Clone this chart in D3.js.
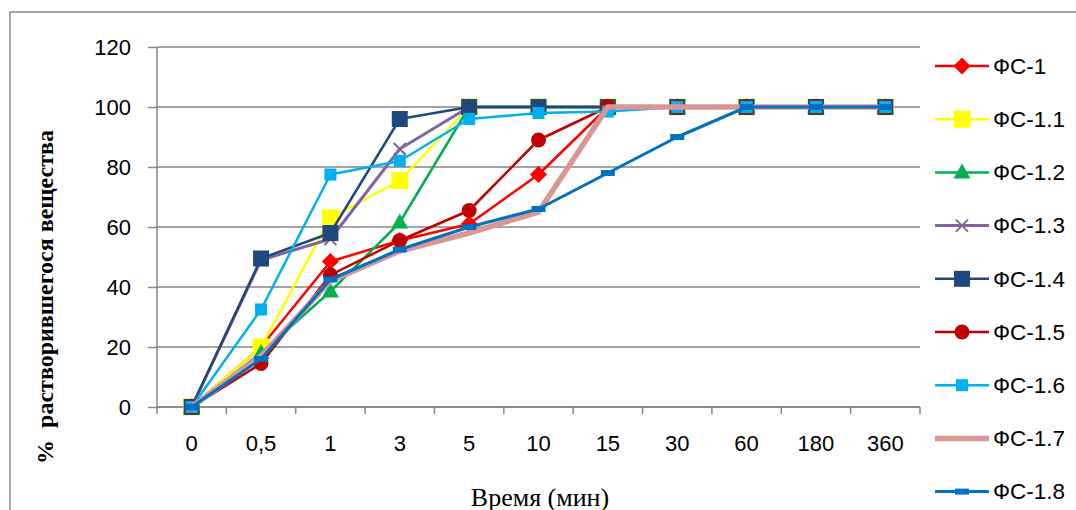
<!DOCTYPE html>
<html><head><meta charset="utf-8">
<script src="https://cdn.jsdelivr.net/npm/d3@7"></script>
<style>body{margin:0;background:#fff;overflow:hidden}</style></head>
<body><svg id="c" width="1076" height="510"></svg>
<script>
const categories = ["0","0,5","1","3","5","10","15","30","60","180","360"];
const yTicks = [0,20,40,60,80,100,120];
const seriesNames = ["ФС-1","ФС-1.1","ФС-1.2","ФС-1.3","ФС-1.4","ФС-1.5","ФС-1.6","ФС-1.7","ФС-1.8"];
const fs1  = [0,20,48.5,55.5,61,77.5,100,100,100,100,100];
const fs11 = [0,20,63,75.5,100,100,100,100,100,100,100];
const fs12 = [0,18,38.5,61.5,100,100,100,100,100,100,100];
const fs13 = [0,49,56,86,100,100,100,100,100,100,100];
const fs14 = [0,49.5,58,96,100,100,100,100,100,100,100];
const fs15 = [0,14.5,44,55.5,65.5,89,100,100,100,100,100];
const fs16 = [0,32.5,77.5,82,96,98,98.5,100,100,100,100];
const fs17 = [0,17,42,52,58,65,100,100,100,100,100];
const fs18 = [0,16,42.5,52.5,60,66,78,90,100,100,100];
const seriesValues = [fs1,fs11,fs12,fs13,fs14,fs15,fs16,fs17,fs18];
const colors = ["#FF0000","#FFFF00","#00B050","#8064A2","#1F497D","#C00000","#00B0F0","#D99694","#0070C0"];
const markers = ["diamond","bigsquare","triangle","x","navysquare","circle","smallsquare","none","dash"];
const widths = [2.5,2.5,2.5,3,2.5,2.5,2.5,5.5,3];

(function(){
const svg = d3.select("#c");
const pl = 157, pr = 920, pt = 47, pb = 407;
const x = d3.scaleBand().domain(categories).range([pl, pr]);
const y = d3.scaleLinear().domain([0,120]).range([pb, pt]);
const grey = "#868686";

svg.append("rect").attr("x",10).attr("y",12).attr("width",1200).attr("height",600)
  .attr("fill","none").attr("stroke","#8c8c8c").attr("stroke-width",1.5);

svg.append("g").selectAll("line").data(yTicks).join("line")
  .attr("x1",pl).attr("x2",pr).attr("y1",d=>y(d)).attr("y2",d=>y(d))
  .attr("stroke",grey).attr("stroke-width",1.5);

const yAxis = d3.axisLeft(y).tickValues(yTicks).tickSize(9).tickPadding(17);
const ya = svg.append("g").attr("transform",`translate(${pl},0)`).call(yAxis);
ya.select(".domain").attr("stroke",grey).attr("stroke-width",1.5).attr("d",`M0,${pb}V${pt}`);
ya.selectAll(".tick line").attr("stroke",grey).attr("stroke-width",1.5);
ya.selectAll("text").attr("font-family","Liberation Sans, Arial, sans-serif").attr("font-size",22).attr("fill","#000");

const xa = svg.append("g").attr("transform",`translate(0,${pb})`).call(d3.axisBottom(x).tickSize(0).tickPadding(28));
xa.select(".domain").attr("stroke",grey).attr("stroke-width",1.5).attr("d",`M${pl},0H${pr}`);
xa.selectAll("text").attr("font-family","Liberation Sans, Arial, sans-serif").attr("font-size",22).attr("fill","#000");
const bounds = categories.map(c=>x(c)).concat([pr]);
xa.selectAll(".bt").data(bounds).join("line").attr("class","bt")
  .attr("x1",d=>d).attr("x2",d=>d).attr("y1",0).attr("y2",7).attr("stroke",grey).attr("stroke-width",1.5);

svg.append("text").attr("x",540).attr("y",506).attr("text-anchor","middle")
  .attr("font-family","Liberation Serif, Times New Roman, serif").attr("font-size",26).text("Время (мин)");
svg.append("text").attr("transform","translate(53,297) rotate(-90)").attr("text-anchor","middle")
  .attr("font-family","Liberation Serif, Times New Roman, serif").attr("font-weight","bold").attr("font-size",24)
  .attr("xml:space","preserve").text("%  растворившегося вещества");

function drawMarker(g, type, color, cx, cy){
  switch(type){
    case "diamond": g.append("path").attr("d",`M${cx},${cy-8.5}L${cx+8.5},${cy}L${cx},${cy+8.5}L${cx-8.5},${cy}Z`).attr("fill",color); break;
    case "bigsquare": g.append("rect").attr("x",cx-8.5).attr("y",cy-8.5).attr("width",17).attr("height",17).attr("fill",color); break;
    case "navysquare": g.append("rect").attr("x",cx-8).attr("y",cy-8).attr("width",16).attr("height",16).attr("fill",color); break;
    case "smallsquare": g.append("rect").attr("x",cx-6).attr("y",cy-6).attr("width",12).attr("height",12).attr("fill",color); break;
    case "triangle": g.append("path").attr("d",`M${cx},${cy-9}L${cx+8.5},${cy+6}L${cx-8.5},${cy+6}Z`).attr("fill",color); break;
    case "circle": g.append("circle").attr("cx",cx).attr("cy",cy).attr("r",7.5).attr("fill",color); break;
    case "x": g.append("path").attr("d",`M${cx-6},${cy-6}L${cx+6},${cy+6}M${cx+6},${cy-6}L${cx-6},${cy+6}`).attr("stroke",color).attr("stroke-width",2); break;
    case "dash": g.append("rect").attr("x",cx-7).attr("y",cy-3).attr("width",14).attr("height",6).attr("fill",color); break;
  }
}

const line = d3.line().x((d,i)=>x(categories[i])+x.bandwidth()/2).y(d=>y(d));
seriesValues.forEach((vals,k)=>{
  const g = svg.append("g");
  g.append("path").datum(vals).attr("d",line).attr("fill","none").attr("stroke",colors[k])
    .attr("stroke-width",widths[k]).attr("stroke-linejoin","round");
  vals.forEach((v,i)=>drawMarker(g, markers[k], colors[k], x(categories[i])+x.bandwidth()/2, y(v)));
});

const lg = svg.append("g");
seriesNames.forEach((n,k)=>{
  const ly = 66 + k*53.2;
  const g = lg.append("g");
  g.append("line").attr("x1",935).attr("x2",989).attr("y1",ly).attr("y2",ly).attr("stroke",colors[k]).attr("stroke-width",widths[k]);
  drawMarker(g, markers[k], colors[k], 962, ly);
  g.append("text").attr("x",993).attr("y",ly).attr("dy","0.35em")
    .attr("font-family","Liberation Sans, Arial, sans-serif").attr("font-size",22.5).text(n);
});
})();
</script></body></html>
